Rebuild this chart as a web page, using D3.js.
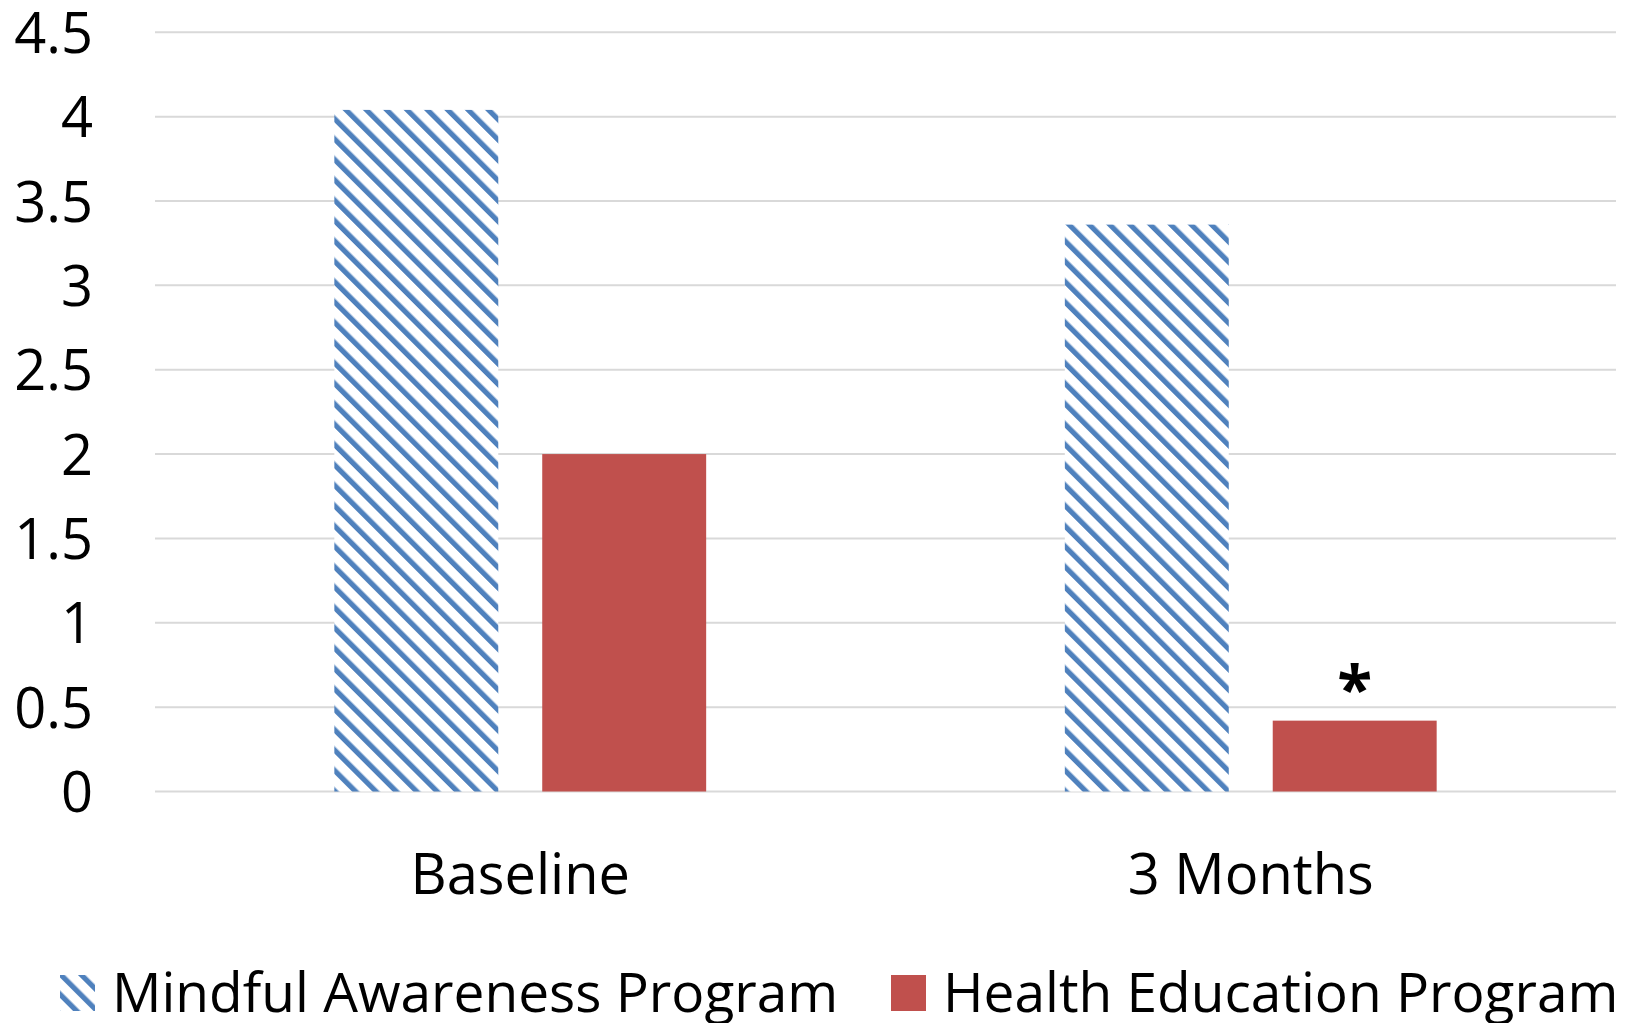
<!DOCTYPE html>
<html>
<head>
<meta charset="utf-8">
<script src="https://cdn.jsdelivr.net/npm/d3@7"></script>
<style>
  body { margin: 0; background: #fff; }
  text { font-family: "Open Sans", "Noto Sans", sans-serif; fill: #000; }
</style>
</head>
<body>
<div class="canvas"></div>
<script>
// data
const categories = ['Baseline', '3 Months'];
const seriesNames = ['Mindful Awareness Program', 'Health Education Program'];
const mindfulValues = [4.04, 3.36];
const healthValues = [2.0, 0.42];
const yTicks = [0, 0.5, 1, 1.5, 2, 2.5, 3, 3.5, 4, 4.5];
const marks = [{cat: '3 Months', series: 'Health Education Program', label: '*'}];

const width = 1632, height = 1023;
const blue = '#4f81bd', red = '#c0504d';

const svg = d3.select('.canvas')
  .append('svg')
  .attr('width', width)
  .attr('height', height);

// hatch pattern for the first series
const defs = svg.append('defs');
const pat = defs.append('pattern')
  .attr('id', 'hatch')
  .attr('patternUnits', 'userSpaceOnUse')
  .attr('width', 14.4)
  .attr('height', 14.4)
  .attr('patternTransform', 'rotate(-45)');
pat.append('rect').attr('width', 14.4).attr('height', 14.4).attr('fill', '#fff');
pat.append('rect').attr('x', 0).attr('width', 5.2).attr('height', 14.4).attr('fill', blue);

// scales
const x = d3.scaleBand()
  .domain(categories)
  .range([155, 1616])
  .paddingInner(0.491)
  .paddingOuter(0.2455);

const xs = d3.scaleBand()
  .domain(seriesNames)
  .range([0, x.bandwidth()])
  .paddingInner(0.2115);

const y = d3.scaleLinear()
  .domain([0, 4.5])
  .range([791.5, 32.3]);

// gridlines
svg.append('g')
  .selectAll('line')
  .data(yTicks)
  .enter().append('line')
  .attr('x1', 155)
  .attr('x2', 1616)
  .attr('y1', d => y(d))
  .attr('y2', d => y(d))
  .attr('stroke', '#d9d9d9')
  .attr('stroke-width', 2);

// y axis labels
const yAxis = d3.axisLeft(y)
  .tickValues(yTicks)
  .tickSize(0)
  .tickPadding(0)
  .tickFormat(d => String(d));

const yAxisGroup = svg.append('g')
  .attr('transform', 'translate(93,0)')
  .call(yAxis);
yAxisGroup.select('.domain').remove();
yAxisGroup.selectAll('text')
  .attr('font-size', 56)
  .attr('font-family', '"Open Sans", sans-serif')
  .attr('fill', '#000')
  .attr('dy', '0.36em');

// bars
const table = categories.map((c, i) => ({
  cat: c,
  values: [
    {series: seriesNames[0], value: mindfulValues[i]},
    {series: seriesNames[1], value: healthValues[i]}
  ]
}));

const groups = svg.append('g')
  .selectAll('g')
  .data(table)
  .enter().append('g')
  .attr('transform', d => `translate(${x(d.cat)},0)`);

groups.selectAll('rect')
  .data(d => d.values)
  .enter().append('rect')
  .attr('x', d => xs(d.series))
  .attr('y', d => y(d.value))
  .attr('width', xs.bandwidth())
  .attr('height', d => y(0) - y(d.value))
  .attr('fill', d => d.series === seriesNames[0] ? 'url(#hatch)' : red);

// significance mark
const valueOf = (cat, series) => {
  const i = categories.indexOf(cat);
  return series === seriesNames[0] ? mindfulValues[i] : healthValues[i];
};
svg.append('g')
  .selectAll('text')
  .data(marks)
  .enter().append('text')
  .attr('x', d => x(d.cat) + xs(d.series) + xs.bandwidth() / 2)
  .attr('y', d => y(valueOf(d.cat, d.series)) - 9)
  .attr('text-anchor', 'middle')
  .attr('font-size', 64)
  .attr('font-weight', 'bold')
  .text(d => d.label);

// x axis labels
svg.append('g')
  .selectAll('text')
  .data(categories)
  .enter().append('text')
  .attr('x', d => x(d) + x.bandwidth() / 2)
  .attr('y', 894)
  .attr('text-anchor', 'middle')
  .attr('font-size', 56)
  .text(d => d);

// legend
const legendItems = [
  {name: seriesNames[0], fill: 'url(#hatch)', x: 60},
  {name: seriesNames[1], fill: red, x: 891}
];
const legend = svg.append('g')
  .selectAll('g')
  .data(legendItems)
  .enter().append('g')
  .attr('transform', d => `translate(${d.x},0)`);

legend.append('rect')
  .attr('x', 0)
  .attr('y', 975)
  .attr('width', 35)
  .attr('height', 36)
  .attr('fill', d => d.fill);

legend.append('text')
  .attr('x', 52)
  .attr('y', 1012)
  .attr('font-size', 55)
  .text(d => d.name);
</script>
</body>
</html>
